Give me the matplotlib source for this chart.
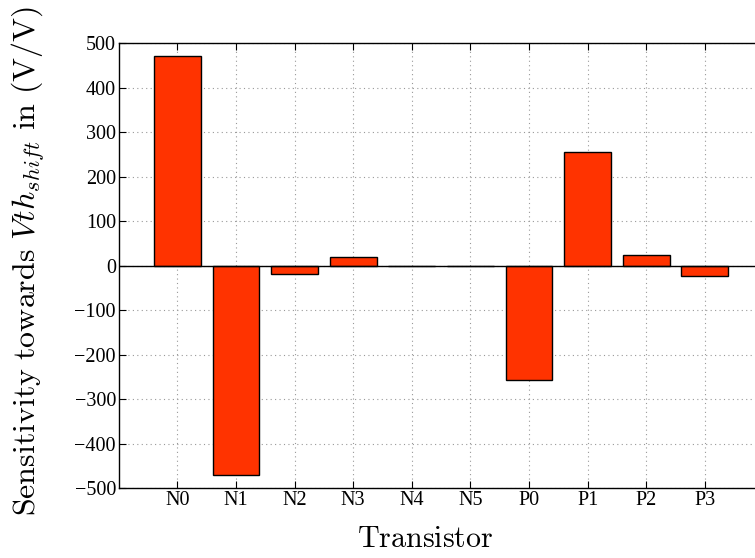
import matplotlib
matplotlib.use("Agg")
import matplotlib.pyplot as plt
import numpy as np

categories = ["N0", "N1", "N2", "N3", "N4", "N5", "P0", "P1", "P2", "P3"]
sensitivity = [472, -470, -19, 21, 0.5, 0.3, -257, 257, 24, -22]
yticks = [-500, -400, -300, -200, -100, 0, 100, 200, 300, 400, 500]

plt.rcParams["mathtext.fontset"] = "cm"
plt.rcParams["font.family"] = ["Liberation Serif", "DejaVu Serif"]

fig = plt.figure(figsize=(7.55, 5.58), dpi=100)
ax = fig.add_axes([0.1573, 0.1246, 0.8538, 0.7975])

x = np.arange(1, len(categories) + 1)
ax.bar(x, sensitivity, width=0.8, color="#FF3300", edgecolor="black",
       linewidth=1.0, zorder=3)
ax.axhline(0, color="black", linewidth=1.0, zorder=4)

ax.set_xlim(0, 11)
ax.set_ylim(-500, 500)
ax.set_xticks(x)
ax.set_xticklabels(categories)
ax.set_yticks(yticks)
ax.set_yticklabels([str(v).replace("-", "\u2212") for v in yticks])

ax.grid(True, linestyle=(0, (1, 3)), color="#999999", linewidth=0.8, zorder=0)
ax.tick_params(direction="in", top=True, right=True, length=5, width=0.8,
               labelsize=14.5, pad=2)
for s in ax.spines.values():
    s.set_linewidth(1.0)

ax.set_xlabel(r"$\mathrm{Transistor}$", fontsize=21.6, labelpad=12)
ax.xaxis.label.set_x(0.476)
ax.set_ylabel(r"$\mathrm{Sensitivity\ towards}\ Vth_{shift}\ \mathrm{in\ (V/V)}$",
              fontsize=23)
ax.yaxis.set_label_coords(-0.112, 0.51)

fig.savefig("out.png", dpi=100)
